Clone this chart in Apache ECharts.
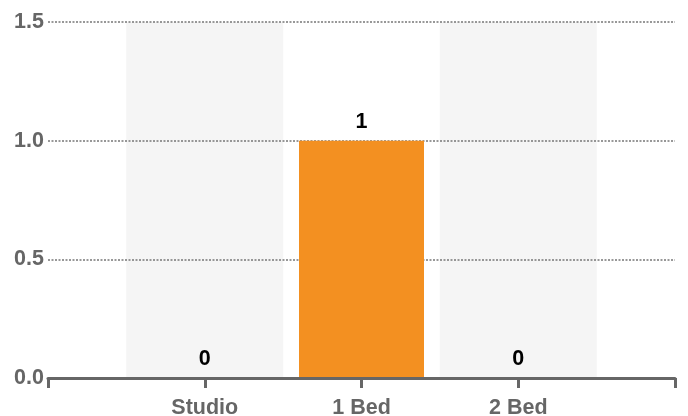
<!DOCTYPE html>
<html><head><meta charset="utf-8">
<script src="https://cdn.jsdelivr.net/npm/echarts@6/dist/echarts.min.js"></script>
<style>html,body{margin:0;padding:0;background:#fff}#c{width:688px;height:416px}</style>
</head><body><div id="c"></div>
<script>
var categories = ["", "Studio", "1 Bed", "2 Bed", ""];
var values = [null, 0, 1, 0, null];
var bandValues = [null, 1.5, null, 1.5, null];
var yTicks = [0, 0.5, 1.0, 1.5];

var chart = echarts.init(document.getElementById('c'), null, {renderer: 'canvas'});
var font = '"Liberation Sans", Arial, sans-serif';
var fs = 21.5;
chart.setOption({
  animation: false,
  textStyle: {fontFamily: font},
  grid: {left: 48, right: 13, top: 22, bottom: 38, containLabel: false, outerBoundsMode: 'none'},
  xAxis: [{
    type: 'category',
    data: categories,
    boundaryGap: false,
    z: 4,
    axisLine: {show: true, lineStyle: {color: '#666', width: 3}},
    axisTick: {show: true, length: 10, lineStyle: {color: '#666', width: 3}},
    axisLabel: {color: '#666', fontSize: fs, fontWeight: 'bold', fontFamily: font, margin: 19, interval: 0},
    splitLine: {show: false}
  }, {
    type: 'category',
    data: categories,
    boundaryGap: false,
    show: false,
    position: 'bottom'
  }],
  yAxis: {
    type: 'value',
    min: yTicks[0],
    max: yTicks[yTicks.length - 1],
    interval: 0.5,
    z: 2,
    axisLine: {show: false},
    axisTick: {show: false},
    axisLabel: {color: '#666', fontSize: fs, fontWeight: 'bold', fontFamily: font, margin: 4,
      formatter: function (v) { return v.toFixed(1); }},
    splitLine: {show: true, lineStyle: {color: '#777', type: [2, 1.5], width: 1.6}}
  },
  series: [
    {
      type: 'bar',
      xAxisIndex: 1,
      data: bandValues,
      barWidth: 157,
      z: 1,
      itemStyle: {color: '#f5f5f5'},
      silent: true
    },
    {
      type: 'bar',
      xAxisIndex: 0,
      data: values,
      barWidth: 125,
      z: 3,
      itemStyle: {color: '#f39021'},
      label: {show: true, position: 'top', distance: 8, color: '#000', fontSize: fs,
        fontWeight: 'bold', fontFamily: font}
    }
  ]
});
</script></body></html>
